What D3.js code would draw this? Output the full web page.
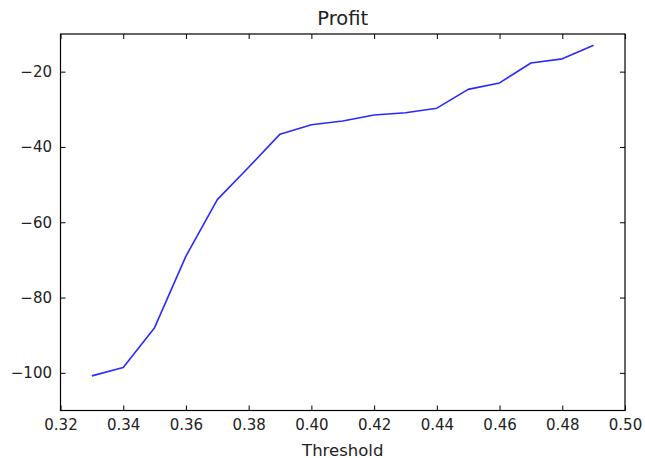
<!DOCTYPE html>
<html>
<head>
<meta charset="utf-8">
<script src="https://cdn.jsdelivr.net/npm/d3@7"></script>
<style>
  html, body { margin: 0; padding: 0; background: #fff; }
  svg { display: block; font-family: "DejaVu Sans", sans-serif; }
</style>
</head>
<body>
<svg id="chart" width="645" height="458"></svg>
<script>
// Threshold sweep and the resulting profit
const thresholds = [0.33, 0.34, 0.35, 0.36, 0.37, 0.38, 0.39, 0.40, 0.41, 0.42, 0.43, 0.44, 0.45, 0.46, 0.47, 0.48, 0.49];
const profit = [-100.8, -98.6, -88.0, -69.0, -54.0, -45.4, -36.6, -34.1, -33.1, -31.5, -30.9, -29.7, -24.7, -23.0, -17.7, -16.6, -13.0];
const xTicks = [0.32, 0.34, 0.36, 0.38, 0.40, 0.42, 0.44, 0.46, 0.48, 0.50];
const yTicks = [-100, -80, -60, -40, -20];

const svg = d3.select("#chart");
const m = { left: 60.5, right: 20, top: 34, bottom: 47.5 };
const W = 645, H = 458;
const FONT = "DejaVu Sans, sans-serif";

const x = d3.scaleLinear().domain([0.32, 0.50]).range([m.left, W - m.right]);
const y = d3.scaleLinear().domain([-110, -10]).range([H - m.bottom, m.top]);

const tickLen = 5;
const fmtX = d3.format(".2f");
const fmtY = v => String(v).replace("-", "\u2212");

// Axes with inward ticks on all four sides
const axBottom = svg.append("g").attr("transform", `translate(0,${y(-110)})`)
  .call(d3.axisBottom(x).tickValues(xTicks).tickFormat(fmtX).tickSizeInner(-tickLen).tickSizeOuter(0).tickPadding(9));
const axTop = svg.append("g").attr("transform", `translate(0,${y(-10)})`)
  .call(d3.axisTop(x).tickValues(xTicks).tickFormat("").tickSizeInner(-tickLen).tickSizeOuter(0));
const axLeft = svg.append("g").attr("transform", `translate(${x(0.32)},0)`)
  .call(d3.axisLeft(y).tickValues(yTicks).tickFormat(fmtY).tickSizeInner(-tickLen).tickSizeOuter(0).tickPadding(8.5));
const axRight = svg.append("g").attr("transform", `translate(${x(0.50)},0)`)
  .call(d3.axisRight(y).tickValues(yTicks).tickFormat("").tickSizeInner(-tickLen).tickSizeOuter(0));

[axBottom, axTop, axLeft, axRight].forEach(g => {
  g.attr("font-family", FONT).attr("font-size", 15);
  g.select(".domain").remove();
  g.selectAll(".tick line").attr("stroke", "#000").attr("stroke-width", 1);
  g.selectAll(".tick text").attr("fill", "#222");
});

// Frame
svg.append("rect")
  .attr("x", x(0.32)).attr("y", y(-10))
  .attr("width", x(0.50) - x(0.32)).attr("height", y(-110) - y(-10))
  .attr("fill", "none").attr("stroke", "#000").attr("stroke-width", 1.2);

// Profit line
const line = d3.line().x((d, i) => x(thresholds[i])).y(d => y(d));
svg.append("path")
  .datum(profit)
  .attr("d", line)
  .attr("fill", "none")
  .attr("stroke", "#2a2aff")
  .attr("stroke-width", 1.6)
  .attr("stroke-linejoin", "round");

// Title and axis label
svg.append("text").attr("x", (x(0.32) + x(0.50)) / 2).attr("y", 24.5)
  .attr("text-anchor", "middle").attr("font-family", FONT).attr("font-size", 19.5).attr("fill", "#222").text("Profit");
svg.append("text").attr("x", (x(0.32) + x(0.50)) / 2).attr("y", 455.5)
  .attr("text-anchor", "middle").attr("font-family", FONT).attr("font-size", 16.5).attr("fill", "#222").text("Threshold");
</script>
</body>
</html>
